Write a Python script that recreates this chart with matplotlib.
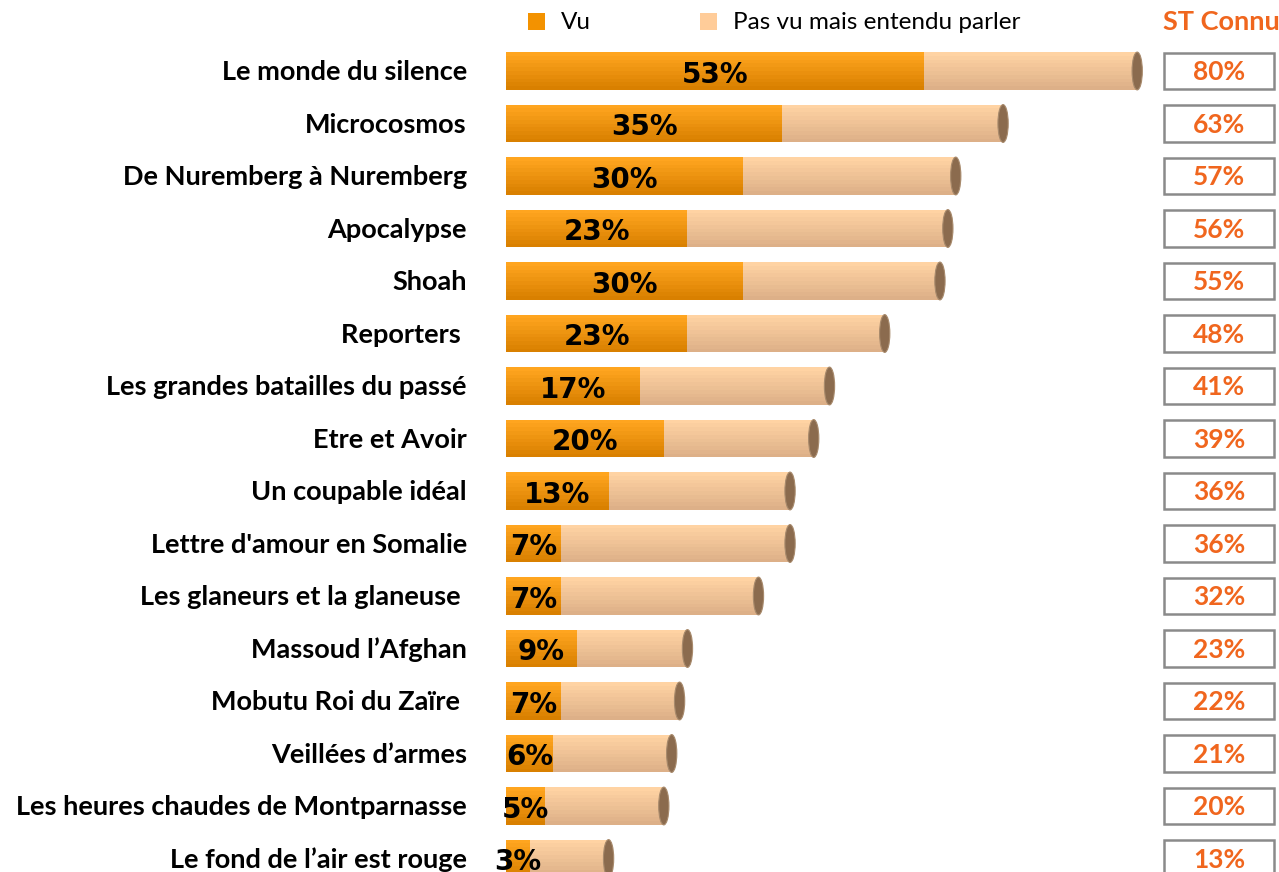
"""Documentaires : notoriété (vu / entendu parler) - barres horizontales empilées."""
import matplotlib
matplotlib.use("Agg")
import matplotlib.pyplot as plt
import numpy as np
from matplotlib.colors import to_rgb
from matplotlib.patches import Ellipse, Rectangle

# --------------------------------------------------------------------------- #
# Data
# --------------------------------------------------------------------------- #
titles = [
    "Le monde du silence", "Microcosmos", "De Nuremberg à Nuremberg",
    "Apocalypse", "Shoah", "Reporters ", "Les grandes batailles du passé",
    "Etre et Avoir", "Un coupable idéal", "Lettre d'amour en Somalie",
    "Les glaneurs et la glaneuse ", "Massoud l’Afghan", "Mobutu Roi du Zaïre ",
    "Veillées d’armes", "Les heures chaudes de Montparnasse",
    "Le fond de l’air est rouge",
]
vu = [53, 35, 30, 23, 30, 23, 17, 20, 13, 7, 7, 9, 7, 6, 5, 3]
st_connu = [80, 63, 57, 56, 55, 48, 41, 39, 36, 36, 32, 23, 22, 21, 20, 13]
legend_labels = ["Vu", "Pas vu mais entendu parler"]
header = "ST Connu"

# --------------------------------------------------------------------------- #
# Style
# --------------------------------------------------------------------------- #
VU_TOP, VU_BOT = "#FFA51F", "#D98000"
PV_TOP, PV_BOT = "#FFD3A3", "#DDB088"
VU_LEG, PV_LEG = "#F39200", "#FFCC99"
CAP = "#8B6B4E"
ORANGE_TXT = "#F0661E"
LABEL_FONT = "Lato"
N_BANDS = 10
BAR_H = 0.72

PX_PER_PCT = 7.89   # pixel width of one percentage point
X0_PX = 506         # pixel where bars start
ROW0_PX, ROW_PX = 71, 52.5
W_PX, H_PX = 1279, 872


def shades(top, bot, n):
    a, b = np.array(to_rgb(top)), np.array(to_rgb(bot))
    return [tuple(a + (b - a) * t) for t in np.linspace(0, 1, n)]


def row(py):
    return (py - ROW0_PX) / ROW_PX


def xp(px):
    return (px - X0_PX) / PX_PER_PCT


fig = plt.figure(figsize=(W_PX / 100, H_PX / 100), dpi=100)
ax = fig.add_axes([0, 0, 1, 1])
ax.set_xlim(xp(0), xp(W_PX))
ax.set_ylim(row(H_PX), row(0))
ax.axis("off")

vu_cols = shades(VU_TOP, VU_BOT, N_BANDS)
pv_cols = shades(PV_TOP, PV_BOT, N_BANDS)
ypos = np.arange(len(titles))
rest = [t - v for t, v in zip(st_connu, vu)]
bh = BAR_H / N_BANDS

for k in range(N_BANDS):
    yk = ypos - BAR_H / 2 + (k + 0.5) * bh
    ax.barh(yk, vu, height=bh, color=vu_cols[k], linewidth=0)
    ax.barh(yk, rest, left=vu, height=bh, color=pv_cols[k], linewidth=0)

for i, (v, t) in enumerate(zip(vu, st_connu)):
    ax.add_patch(Ellipse((t, i), 1.3, BAR_H, facecolor=CAP,
                         edgecolor="#A88A6C", lw=0.8, zorder=3))
    ax.text(v / 2, i + 0.07, f"{v}%", ha="center", va="center",
            fontsize=20, fontweight="bold", family="DejaVu Sans", zorder=4)
    ax.text(xp(467), i + 0.02, titles[i], ha="right", va="center",
            fontsize=19.5, fontweight="bold", family=LABEL_FONT)
    # ST Connu box
    ax.add_patch(Rectangle((xp(1164), i - 0.35), xp(1274) - xp(1164), 0.70,
                           facecolor="white", edgecolor="#8A8A8A", lw=1.8))
    ax.text(xp(1219), i + 0.02, f"{t}%", ha="center", va="center",
            fontsize=19, fontweight="bold", color=ORANGE_TXT, family=LABEL_FONT)

# legend + header
sq_w, sq_h = xp(545) - xp(528), 17 / ROW_PX
for lab, px_sq, px_txt, col in zip(legend_labels, [528, 700], [561, 733],
                                  [VU_LEG, PV_LEG]):
    ax.add_patch(Rectangle((xp(px_sq), row(13)), sq_w, sq_h,
                           facecolor=col, linewidth=0))
    ax.text(xp(px_txt), row(22), lab, ha="left", va="center",
            fontsize=17.5, family=LABEL_FONT)
ax.text(xp(1163), row(22), header, ha="left", va="center", fontsize=19.5,
        fontweight="bold", color=ORANGE_TXT, family=LABEL_FONT)

fig.savefig("out.png", dpi=100)
